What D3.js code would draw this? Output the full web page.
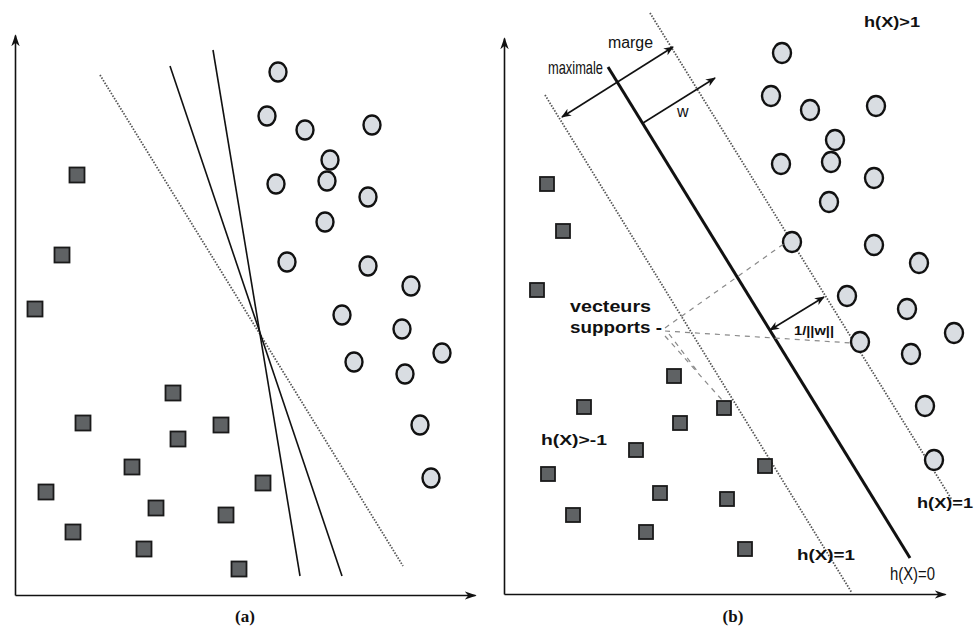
<!DOCTYPE html>
<html>
<head>
<meta charset="utf-8">
<script src="https://cdn.jsdelivr.net/npm/d3@7"></script>
<style>
  body { margin: 0; background: #fff; }
  text { font-family: 'Liberation Sans', Arial, sans-serif; fill: #111; }
</style>
</head>
<body>
<script>
// ---- panel (a) : data in plot units (1 unit ~ 10px) ----
const circlesA = [
  [26.3, 52.3], [25.2, 47.9], [29.0, 46.5], [35.7, 47.0], [31.5, 43.5], [26.1, 41.1],
  [31.2, 41.4], [35.3, 39.8], [31.0, 37.3], [27.2, 33.3], [35.3, 32.9], [39.6, 30.9],
  [32.7, 28.0], [38.7, 26.6], [42.7, 24.2], [33.9, 23.3], [39.0, 22.1], [40.5, 17.0],
  [41.6, 11.7]
];
const squaresA = [
  [6.2, 42.0], [4.7, 34.0], [2.0, 28.6], [15.8, 20.2], [6.8, 17.2], [20.6, 17.0],
  [16.3, 15.6], [11.7, 12.8], [3.1, 10.3], [24.8, 11.2], [14.1, 8.7], [21.1, 8.0],
  [5.8, 6.3], [12.9, 4.6], [22.4, 2.6]
];
// separating lines [x1, y1, x2, y2, style]
const linesA = [
  [8.5, 52.0, 38.8, 2.9, 'dotted'],
  [15.5, 52.9, 32.7, 1.9, 'solid'],
  [19.8, 54.5, 28.5, 1.9, 'solid']
];

// ---- panel (b) ----
const circlesB = [
  [27.8, 54.1], [26.7, 49.8], [30.6, 48.4], [37.2, 48.8], [33.1, 45.4], [27.7, 43.0],
  [32.7, 43.2], [37.0, 41.6], [32.5, 39.2], [28.8, 35.2], [37.0, 34.9], [41.5, 33.1],
  [34.3, 29.8], [40.3, 28.5], [45.0, 26.1], [35.6, 25.2], [40.7, 24.0], [42.1, 18.8],
  [43.0, 13.4]
];
const squaresB = [
  [4.3, 41.0], [5.9, 36.3], [3.3, 30.4], [17.0, 21.8], [8.0, 18.7], [22.0, 18.6],
  [17.6, 17.1], [13.2, 14.4], [4.4, 12.0], [15.6, 10.1], [6.9, 7.9], [14.2, 6.2],
  [22.3, 9.5], [26.1, 12.8], [24.1, 4.5]
];
const linesB = [
  [4.1, 49.9, 34.8, 0.1, 'dotted'],   // h(X) = -1
  [10.4, 52.7, 40.6, 3.6, 'thick'],   // h(X) = 0
  [14.6, 58.1, 44.8, 9.4, 'dotted']   // h(X) = 1
];
const supportLinks = [
  [16.1, 26.6, 28.1, 35.1],
  [16.1, 26.3, 34.8, 25.1],
  [16.1, 25.8, 21.8, 19.4],
  [16.5, 26.0, 19.4, 22.2]
];
// arrows [x1, y1, x2, y2, twoHeads]
const arrowsB = [
  [5.8, 47.7, 16.9, 54.7, true],   // marge maximale
  [13.9, 47.1, 21.1, 51.6, false], // w
  [26.6, 26.4, 32.0, 29.7, true]   // 1/||w||
];
const labelsB = [
  { t: 'h(X)>1', x: 36.0, y: 56.7, cls: 'h', len: 56 },
  { t: 'marge', x: 10.4, y: 54.6, cls: 'm', len: 45 },
  { t: 'maximale', x: 4.4, y: 52.0, cls: 'n', len: 55 },
  { t: 'w', x: 17.3, y: 47.7, cls: 'm' },
  { t: 'vecteurs', x: 6.6, y: 28.2, cls: 'v', len: 81 },
  { t: 'supports -', x: 6.6, y: 26.1, cls: 'v', len: 92 },
  { t: '1/||w||', x: 29.0, y: 25.9, cls: 's', len: 40 },
  { t: 'h(X)>-1', x: 3.7, y: 14.9, cls: 'h', len: 66 },
  { t: 'h(X)=1', x: 29.3, y: 3.4, cls: 'h', len: 58 },
  { t: 'h(X)=1', x: 41.3, y: 8.6, cls: 'h', len: 56 },
  { t: 'h(X)=0', x: 38.6, y: 1.4, cls: 'n', len: 45 }
];

const svg = d3.select('body').append('svg')
  .attr('width', 974)
  .attr('height', 631);

// arrow heads
const defs = svg.append('defs');
defs.append('marker')
  .attr('id', 'arr')
  .attr('viewBox', '0 0 10 10')
  .attr('refX', 9).attr('refY', 5)
  .attr('markerWidth', 10).attr('markerHeight', 10)
  .attr('markerUnits', 'userSpaceOnUse')
  .attr('orient', 'auto-start-reverse')
  .append('path')
  .attr('d', 'M0,1 L10,5 L0,9 L3,5 z')
  .attr('fill', '#111');
defs.append('marker')
  .attr('id', 'axarr')
  .attr('viewBox', '0 0 10 10')
  .attr('refX', 9).attr('refY', 5)
  .attr('markerWidth', 12).attr('markerHeight', 12)
  .attr('markerUnits', 'userSpaceOnUse')
  .attr('orient', 'auto')
  .append('path')
  .attr('d', 'M0,1.5 L10,5 L0,8.5 L3,5 z')
  .attr('fill', '#111');

function drawPanel(x, y, circles, squares, lines, sq, rx, ry, caption) {
  const g = svg.append('g');

  // axes (domain line only, with arrow)
  g.append('g')
    .attr('transform', `translate(0, ${y(0)})`)
    .call(d3.axisBottom(x).ticks(0).tickSizeOuter(0))
    .select('.domain')
    .attr('stroke', '#111').attr('stroke-width', 1.6)
    .attr('marker-end', 'url(#axarr)');
  g.append('g')
    .attr('transform', `translate(${x(0)}, 0)`)
    .call(d3.axisLeft(y).ticks(0).tickSizeOuter(0))
    .select('.domain')
    .attr('stroke', '#111').attr('stroke-width', 1.6)
    .attr('marker-end', 'url(#axarr)');

  // separating lines
  g.selectAll('.sep').data(lines).enter()
    .append('line')
    .attr('class', 'sep')
    .attr('x1', d => x(d[0])).attr('y1', d => y(d[1]))
    .attr('x2', d => x(d[2])).attr('y2', d => y(d[3]))
    .attr('stroke', d => d[4] === 'dotted' ? '#555' : '#111')
    .attr('stroke-width', d => d[4] === 'thick' ? 3 : (d[4] === 'dotted' ? 1.8 : 1.6))
    .attr('stroke-dasharray', d => d[4] === 'dotted' ? '1.5,1.5' : null);

  // squares
  g.selectAll('.sq').data(squares).enter()
    .append('rect')
    .attr('class', 'sq')
    .attr('x', d => x(d[0]) - sq / 2)
    .attr('y', d => y(d[1]) - sq / 2)
    .attr('width', sq).attr('height', sq)
    .attr('fill', '#5f6264')
    .attr('stroke', '#1a1a1a').attr('stroke-width', 1.8);

  // circles
  g.selectAll('.pt').data(circles).enter()
    .append('ellipse')
    .attr('class', 'pt')
    .attr('cx', d => x(d[0]))
    .attr('cy', d => y(d[1]))
    .attr('rx', rx).attr('ry', ry)
    .attr('fill', '#d9dde2')
    .attr('stroke', '#111').attr('stroke-width', 2.4);

  g.append('text')
    .attr('x', x(caption.x)).attr('y', y(caption.y))
    .attr('text-anchor', 'middle')
    .style('font-family', "'Liberation Serif', 'DejaVu Serif', serif")
    .style('font-weight', 'bold')
    .style('font-size', '17px')
    .text(caption.t);
  return g;
}

// panel (a)
const xA = d3.scaleLinear().domain([0, 46]).range([15, 475]);
const yA = d3.scaleLinear().domain([0, 56]).range([595, 35]);
drawPanel(xA, yA, circlesA, squaresA, linesA, 15, 8.5, 9.5, { t: '(a)', x: 23.0, y: -2.7 });

// panel (b)
const xB = d3.scaleLinear().domain([0, 44.1]).range([504, 945]);
const yB = d3.scaleLinear().domain([0, 55.6]).range([594, 38]);
const gB = drawPanel(xB, yB, circlesB, squaresB, linesB, 14, 9, 10, { t: '(b)', x: 22.9, y: -2.8 });

// dashed pointers to the support vectors
gB.selectAll('.link').data(supportLinks).enter()
  .append('line')
  .attr('class', 'link')
  .attr('x1', d => xB(d[0])).attr('y1', d => yB(d[1]))
  .attr('x2', d => xB(d[2])).attr('y2', d => yB(d[3]))
  .attr('stroke', '#8a8a8a').attr('stroke-width', 1.2)
  .attr('stroke-dasharray', '5,5');

// arrows
gB.selectAll('.arw').data(arrowsB).enter()
  .append('line')
  .attr('class', 'arw')
  .attr('x1', d => xB(d[0])).attr('y1', d => yB(d[1]))
  .attr('x2', d => xB(d[2])).attr('y2', d => yB(d[3]))
  .attr('stroke', '#111').attr('stroke-width', 1.6)
  .attr('marker-end', 'url(#arr)')
  .attr('marker-start', d => d[4] ? 'url(#arr)' : null);

// annotations
const styles = {
  h: { size: '14px', weight: 'bold', family: "'Liberation Sans', Arial, sans-serif" },
  m: { size: '16px', weight: 'normal', family: "'Liberation Sans', Arial, sans-serif" },
  n: { size: '19px', weight: 'normal', family: "'Liberation Sans Narrow', 'Liberation Sans', sans-serif" },
  v: { size: '16px', weight: 'bold', family: "'Liberation Sans', Arial, sans-serif" },
  s: { size: '12px', weight: 'bold', family: "'Liberation Sans', Arial, sans-serif" }
};
gB.selectAll('.lbl').data(labelsB).enter()
  .append('text')
  .attr('class', 'lbl')
  .attr('x', d => xB(d.x)).attr('y', d => yB(d.y))
  .attr('textLength', d => d.len || null)
  .attr('lengthAdjust', 'spacingAndGlyphs')
  .style('font-size', d => styles[d.cls].size)
  .style('font-weight', d => styles[d.cls].weight)
  .style('font-family', d => styles[d.cls].family)
  .text(d => d.t);
</script>
</body>
</html>
